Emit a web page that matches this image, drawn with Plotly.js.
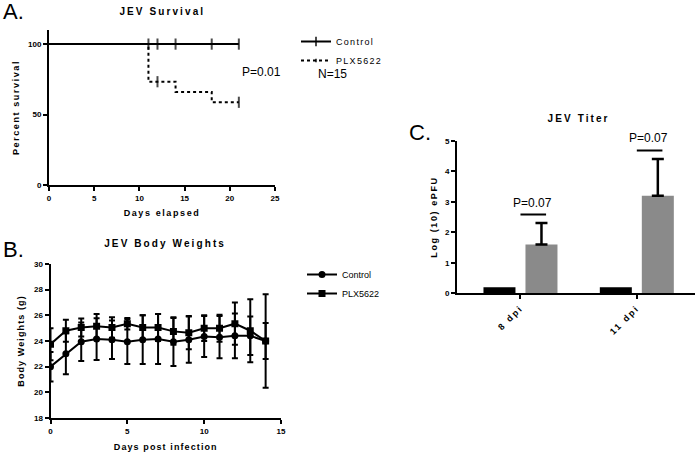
<!DOCTYPE html>
<html><head><meta charset="utf-8">
<script src="https://cdn.plot.ly/plotly-3.0.1.min.js"></script>
<style>
body{margin:0;padding:0;background:#fff}
#chart{width:696px;height:454px}
.annotation[data-index="0"] text, .annotation[data-index="1"] text, .annotation[data-index="2"] text {letter-spacing:2.1px}
text.xtitle, text.ytitle {letter-spacing:1.6px}
text.x2title, text.y2title {letter-spacing:1.1px}
text.y3title {letter-spacing:1.6px}
.x3tick text {letter-spacing:2px}
.legendtext {letter-spacing:1.3px}
</style></head>
<body><div id="chart"></div>
<script>
// Panel A: survival
const survDays = [0, 11, 12, 14, 18, 21];
const controlSurv = [100, 100, 100, 100, 100, 100];
const plxSurv = [100, 73.3, 73.3, 66.0, 58.7, 58.7];
const controlCensored = [0, 1, 1, 1, 1, 1];
const plxCensored = [0, 0, 1, 0, 0, 1];

// Panel B: body weights
const days = [0,1,2,3,4,5,6,7,8,9,10,11,12,13,14];
const controlWeight = [22.0, 23.0, 23.95, 24.15, 24.1, 23.95, 24.1, 24.15, 23.95, 24.1, 24.35, 24.3, 24.4, 24.4, 24.0];
const controlWeightErr = [1.15, 1.6, 1.5, 1.63, 1.5, 1.75, 1.9, 1.95, 1.9, 1.8, 1.6, 1.65, 1.75, 1.5, 1.4];
const plxWeight = [23.75, 24.8, 25.05, 25.15, 25.05, 25.35, 25.05, 25.05, 24.75, 24.65, 25.0, 25.0, 25.35, 24.8, 24.0];
const plxWeightErr = [1.25, 0.85, 0.7, 0.95, 0.8, 0.45, 0.95, 1.05, 1.05, 1.3, 1.0, 1.05, 1.65, 2.45, 3.65];

// Panel C: titer
const titerCategories = ['8 dpi', '11 dpi'];
const controlTiter = [0.2, 0.2];
const plxTiter = [1.6, 3.2];
const plxTiterErr = [0.7, 1.2];
const pValues = ['P=0.07', 'P=0.07'];

const FAM = 'Liberation Sans, Arial, sans-serif';
const tickFont = {family: FAM, size: 8, weight: 'bold', color: '#000'};
const titleFont = {family: FAM, size: 9, weight: 'bold', color: '#000'};
const W = 696, H = 454;
const px = v => v / W, py = v => 1 - v / H;

function ax(extra) {
  return Object.assign({
    showgrid: false, zeroline: false, showline: true, linecolor: '#000', linewidth: 2,
    ticks: 'outside', ticklen: 4, tickwidth: 2, tickcolor: '#000', tickfont: tickFont,
    fixedrange: true
  }, extra);
}

const traces = [
  {x: survDays, y: plxSurv, name: 'PLX5622', mode: 'lines+markers', xaxis: 'x', yaxis: 'y',
   legend: 'legend', legendrank: 2,
   line: {shape: 'hv', dash: '3px,3px', width: 2, color: '#000'},
   marker: {symbol: 'line-ns', size: plxCensored.map(c => c ? 8 : 0), color: '#000', line: {width: 2, color: '#000'}}},
  {x: survDays, y: controlSurv, name: 'Control', mode: 'lines+markers', xaxis: 'x', yaxis: 'y',
   legend: 'legend', legendrank: 1,
   line: {shape: 'hv', width: 2, color: '#000'},
   marker: {symbol: 'line-ns', size: controlCensored.map(c => c ? 8 : 0), color: '#000', line: {width: 2, color: '#000'}}},
  {x: days, y: controlWeight, name: 'Control', mode: 'lines+markers', xaxis: 'x2', yaxis: 'y2',
   legend: 'legend2', line: {width: 2, color: '#000'},
   marker: {symbol: 'circle', size: 7, color: '#000'},
   error_y: {type: 'data', array: controlWeightErr, thickness: 2, width: 3, color: '#000'}},
  {x: days, y: plxWeight, name: 'PLX5622', mode: 'lines+markers', xaxis: 'x2', yaxis: 'y2',
   legend: 'legend2', line: {width: 2, color: '#000'},
   marker: {symbol: 'square', size: 7, color: '#000'},
   error_y: {type: 'data', array: plxWeightErr, thickness: 2, width: 3, color: '#000'}},
  {type: 'bar', x: titerCategories, y: controlTiter, name: 'Control', xaxis: 'x3', yaxis: 'y3',
   showlegend: false, marker: {color: '#000'}},
  {type: 'bar', x: titerCategories, y: plxTiter, name: 'PLX5622', xaxis: 'x3', yaxis: 'y3',
   showlegend: false, marker: {color: '#8a8a8a'},
   error_y: {type: 'data', symmetric: false, array: plxTiterErr, arrayminus: [0, 0], thickness: 2.5, width: 6, color: '#000'}}
];

const annotations = [
  {text: 'JEV Survival', x: px(162), y: py(12), xref: 'paper', yref: 'paper', showarrow: false, xanchor: 'center', yanchor: 'middle', font: {family: FAM, size: 10, weight: 'bold', color: '#000'}},
  {text: 'JEV Body Weights', x: px(165), y: py(243), xref: 'paper', yref: 'paper', showarrow: false, xanchor: 'center', yanchor: 'middle', font: {family: FAM, size: 10, weight: 'bold', color: '#000'}},
  {text: 'JEV Titer', x: px(578), y: py(119), xref: 'paper', yref: 'paper', showarrow: false, xanchor: 'center', yanchor: 'middle', font: {family: FAM, size: 10, weight: 'bold', color: '#000'}},
  {text: 'A.', x: px(1), y: py(12), xref: 'paper', yref: 'paper', showarrow: false, xanchor: 'left', yanchor: 'middle', font: {family: FAM, size: 22, color: '#000'}},
  {text: 'B.', x: px(1), y: py(250), xref: 'paper', yref: 'paper', showarrow: false, xanchor: 'left', yanchor: 'middle', font: {family: FAM, size: 22, color: '#000'}},
  {text: 'C.', x: px(407), y: py(132), xref: 'paper', yref: 'paper', showarrow: false, xanchor: 'left', yanchor: 'middle', font: {family: FAM, size: 22, color: '#000'}},
  {text: 'P=0.01', x: px(240), y: py(72), xref: 'paper', yref: 'paper', showarrow: false, xanchor: 'left', yanchor: 'middle', font: {family: FAM, size: 12, color: '#000'}},
  {text: 'N=15', x: px(316), y: py(74), xref: 'paper', yref: 'paper', showarrow: false, xanchor: 'left', yanchor: 'middle', font: {family: FAM, size: 12, color: '#000'}}
];
const shapes = [];
titerCategories.forEach((c, i) => {
  const top = plxTiter[i] + plxTiterErr[i] + 0.28;
  shapes.push({type: 'line', xref: 'x3', yref: 'y3', x0: i, x1: i + 0.22, y0: top, y1: top, line: {color: '#000', width: 2}});
  annotations.push({text: pValues[i], xref: 'x3', yref: 'y3', x: i + 0.1, y: top + 0.1, showarrow: false, xanchor: 'center', yanchor: 'bottom', font: {family: FAM, size: 12, color: '#000'}});
});

const layout = {
  width: W, height: H, margin: {l: 0, r: 0, t: 0, b: 0},
  paper_bgcolor: '#fff', plot_bgcolor: '#fff',
  font: {family: FAM, color: '#000'},
  bargap: 0.278, bargroupgap: 0.238, barmode: 'group',
  xaxis: ax({domain: [px(49), px(275)], range: [0, 25], tick0: 0, dtick: 5, anchor: 'y',
    title: {text: 'Days elapsed', font: titleFont, standoff: 8}}),
  yaxis: ax({domain: [py(185), py(30)], range: [0, 110], tickvals: [0, 50, 100], anchor: 'x',
    title: {text: 'Percent survival', font: titleFont, standoff: 7}}),
  xaxis2: ax({domain: [px(50.5), px(281)], range: [0, 15], tick0: 0, dtick: 5, anchor: 'y2',
    title: {text: 'Days post infection', font: titleFont, standoff: 9}}),
  yaxis2: ax({domain: [py(418), py(264)], range: [18, 30], tick0: 18, dtick: 2, anchor: 'x2',
    title: {text: 'Body Weights (g)', font: titleFont, standoff: 8}}),
  xaxis3: ax({domain: [px(457), px(695)], type: 'category', range: [-0.5455, 1.5], anchor: 'y3',
    tickangle: -45, tickfont: {family: FAM, size: 9, weight: 'bold', color: '#000'}}),
  yaxis3: ax({domain: [py(293.3), py(140.7)], range: [0, 5], tick0: 0, dtick: 1, anchor: 'x3',
    title: {text: 'Log (10) ePFU', font: titleFont, standoff: 6}}),
  legend: {x: px(296), y: py(27), xanchor: 'left', yanchor: 'top', bgcolor: 'rgba(0,0,0,0)',
    font: {family: FAM, size: 9, color: '#000'}},
  legend2: {x: px(302), y: py(260), xanchor: 'left', yanchor: 'top', bgcolor: 'rgba(0,0,0,0)',
    font: {family: FAM, size: 9, color: '#000'}},
  annotations: annotations,
  shapes: shapes
};

Plotly.newPlot('chart', traces, layout, {displayModeBar: false, staticPlot: true});
</script>
</body></html>
